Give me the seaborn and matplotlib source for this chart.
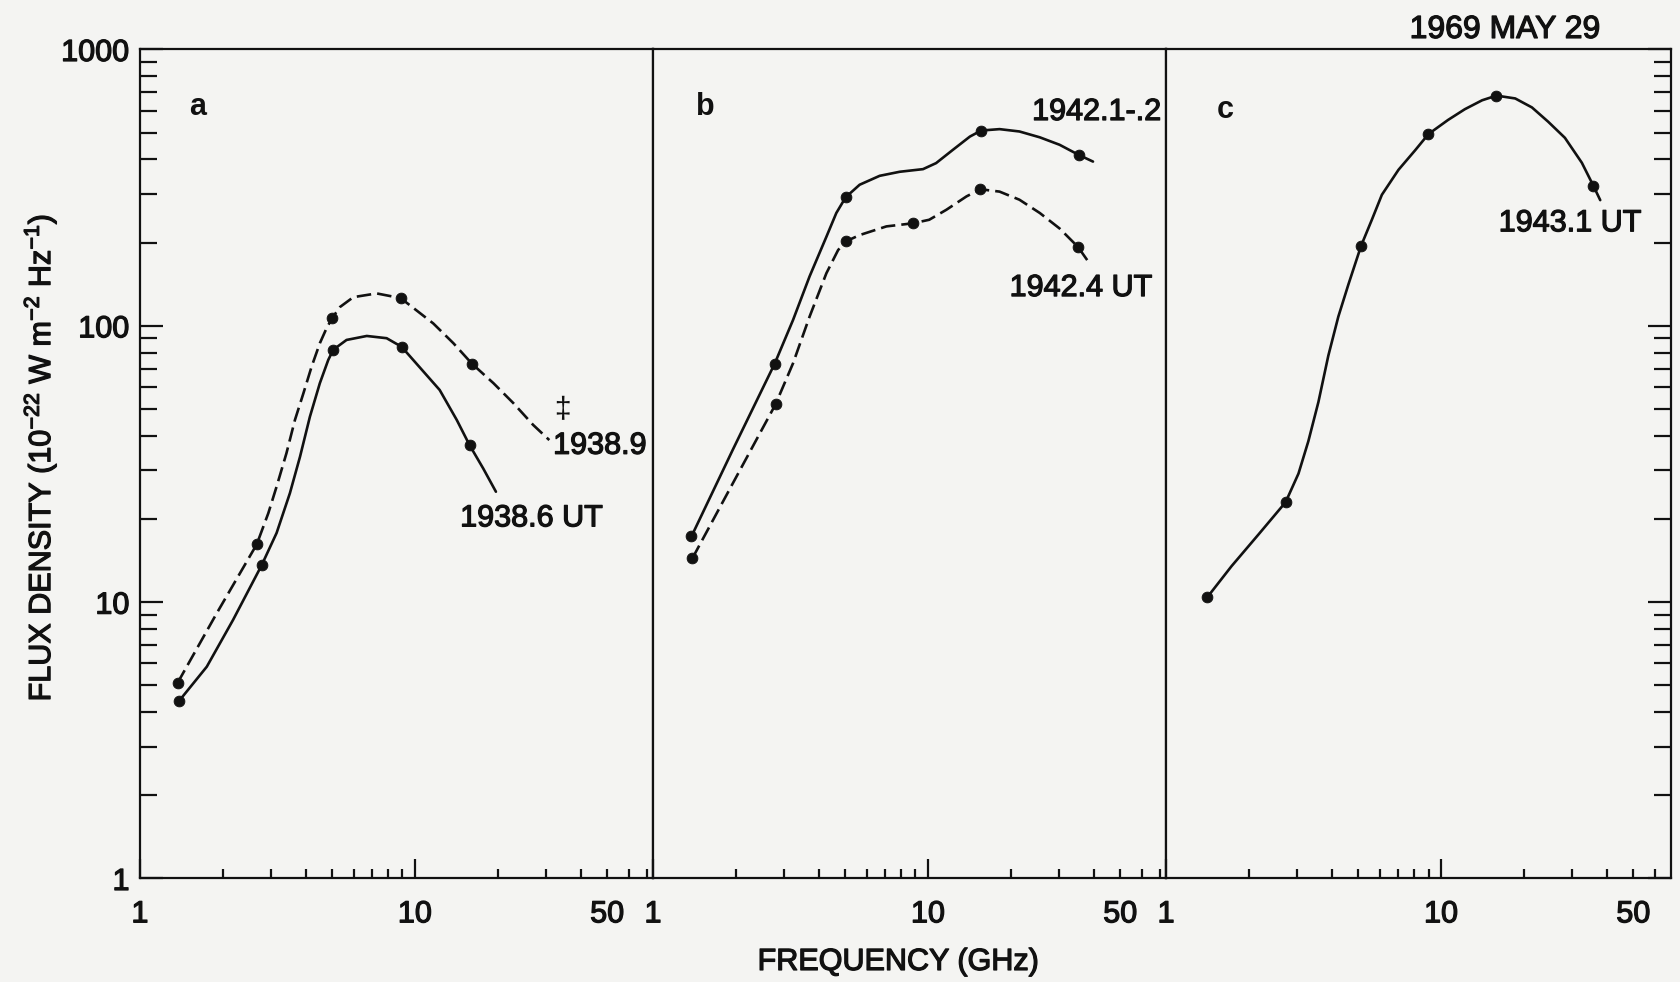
import matplotlib
matplotlib.use("Agg")
import matplotlib.pyplot as plt
import matplotlib.patheffects as pe
import seaborn as sns
from matplotlib.ticker import FixedLocator, FuncFormatter

# ==============================
# DATA
# ==============================
# measured points, panel a
freq_a_late = [1.37, 2.66, 5.01, 8.87, 16.1]
flux_a_late = [5.1, 16.2, 107, 126, 73]
freq_a_early = [1.39, 2.77, 5.05, 8.94, 15.8]
flux_a_early = [4.4, 13.6, 82, 84, 37]
freq_a_limit = [34.6]
flux_a_limit = [50.5]

# measured points, panel b
freq_b_early = [1.38, 2.77, 5.02, 15.6, 35.4]
flux_b_early = [17.3, 73, 292, 509, 415]
freq_b_late = [1.39, 2.79, 5.02, 8.82, 15.5, 35.1]
flux_b_late = [14.4, 52, 202, 235, 312, 193]

# measured points, panel c
freq_c = [1.41, 2.72, 5.12, 8.99, 15.9, 35.8]
flux_c = [10.4, 23, 195, 494, 681, 321]

# hand drawn curves
curve_a_late_x = [1.37, 1.90, 2.66, 2.93, 3.14, 3.41, 3.66, 3.93, 4.21, 4.51,
                  4.77, 5.01, 5.34, 5.97, 7.26, 8.87, 10.1, 11.66, 13.8, 16.1,
                  19.3, 22.8, 26.9, 30.8]
curve_a_late_y = [5.1, 9.1, 16.2, 21.0, 26.2, 34.6, 45.6, 57, 71.2, 86.5,
                  98, 107, 117, 127, 131, 126, 114, 102, 86.5, 73,
                  62, 52.5, 43.8, 38.6]
curve_a_early_x = [1.39, 1.75, 2.18, 2.77, 3.14, 3.51, 3.82, 4.15, 4.51, 4.84,
                   5.05, 5.64, 6.68, 7.89, 8.94, 10.1, 12.3, 14.2, 15.8, 17.7,
                   19.7]
curve_a_early_y = [4.4, 5.84, 8.62, 13.6, 17.8, 24.8, 33.6, 46.9, 62, 75.3,
                   82, 88.9, 91.9, 90.2, 84, 73.2, 58.6, 45.6, 37, 30.5,
                   25.1]

curve_b_early_x = [1.38, 1.95, 2.77, 3.23, 3.71, 4.27, 4.64, 5.02, 5.64, 6.67,
                   7.89, 9.59, 10.7, 12.3, 14.2, 15.6, 18.2, 21.5, 25.5, 30.1,
                   35.4, 39.8]
curve_b_early_y = [17.3, 35.6, 73, 105, 151, 210, 256, 292, 324, 349,
                   361, 369, 388, 433, 484, 509, 515, 505, 481, 452,
                   415, 393]
curve_b_late_x = [1.39, 1.95, 2.79, 3.23, 3.71, 4.27, 4.71, 5.02, 5.64, 7.06,
                  8.82, 10.1, 11.66, 13.8, 15.5, 18.2, 21.5, 25.5, 30.1, 35.1,
                  38.7]
curve_b_late_y = [14.4, 26.9, 52, 73.2, 108, 155, 188, 202, 213, 229,
                  235, 242, 263, 294, 312, 306, 286, 256, 225, 193,
                  168]

curve_c_x = [1.41, 1.73, 2.17, 2.72, 3.03, 3.29, 3.58, 3.89, 4.23, 4.60,
             5.12, 5.60, 6.09, 7.0, 8.05, 8.99, 10.6, 12.2, 14.1, 15.9,
             18.6, 21.4, 24.5, 28.2, 32.5, 35.8, 37.9]
curve_c_y = [10.4, 13.5, 17.6, 23, 29.2, 38.2, 53, 78, 108, 141,
             195, 242, 298, 367, 432, 494, 556, 608, 655, 681,
             665, 617, 548, 479, 389, 321, 285]

x_major = [1, 10]
x_minor = [2, 3, 4, 5, 6, 7, 8, 9, 20, 30, 40, 50, 60, 70]
y_major = [1, 10, 100, 1000]
y_minor = [m * d for d in (1, 10, 100) for m in range(2, 10)]

# ==============================
# STYLE
# ==============================
sns.set_style("white")
plt.rcParams["font.family"] = ["Liberation Sans", "DejaVu Sans"]
plt.rcParams["mathtext.fontset"] = "custom"
plt.rcParams["mathtext.rm"] = "Liberation Sans"
plt.rcParams["mathtext.default"] = "regular"

PAPER = "#f4f4f2"
INK = "#111111"
FS = 22
LW = 1.9
DASH = (0, (5.5, 2.3))
HEAVY = [pe.withStroke(linewidth=0.9, foreground=INK)]

fig = plt.figure(figsize=(16.8, 9.82), dpi=100, facecolor=PAPER)

bottom, height = 0.1054, 0.8442
ax_a = fig.add_axes([0.0833, bottom, 0.3054, height])
ax_b = fig.add_axes([0.3887, bottom, 0.3054, height])
ax_c = fig.add_axes([0.6941, bottom, 0.3006, height])
axes = [ax_a, ax_b, ax_c]

fmt_g = FuncFormatter(lambda v, p: f"{v:g}")
fmt_50 = FuncFormatter(lambda v, p: "50" if abs(v - 50) < 1e-6 else "")

for ax, xmax in zip(axes, [73.4, 73.4, 68.6]):
    ax.set_facecolor(PAPER)
    ax.set_xscale("log")
    ax.set_yscale("log")
    ax.set_xlim(1, xmax)
    ax.set_ylim(1, 1000)
    for sp in ax.spines.values():
        sp.set_color(INK)
        sp.set_linewidth(1.6)

    ax.xaxis.set_major_locator(FixedLocator(x_major))
    ax.xaxis.set_minor_locator(FixedLocator(x_minor))
    ax.xaxis.set_major_formatter(fmt_g)
    ax.xaxis.set_minor_formatter(fmt_50)
    ax.tick_params(axis="x", which="both", direction="in", bottom=True,
                   top=False, pad=15, labelsize=FS, colors=INK, width=1.6)
    ax.tick_params(axis="x", which="major", length=14)
    ax.tick_params(axis="x", which="minor", length=6.5)

    ax.yaxis.set_major_locator(FixedLocator(y_major))
    ax.yaxis.set_minor_locator(FixedLocator(y_minor))
    ax.yaxis.set_major_formatter(fmt_g)
    ax.yaxis.set_minor_formatter(FuncFormatter(lambda v, p: ""))
    ax.tick_params(axis="y", which="both", direction="in", pad=7.5,
                   labelsize=FS, colors=INK, width=1.6)
    ax.tick_params(axis="y", which="major", length=16.5)
    ax.tick_params(axis="y", which="minor", length=12)

ax_a.tick_params(axis="y", which="both", left=True, right=False)
ax_b.tick_params(axis="y", which="both", left=False, right=False,
                 labelleft=False)
ax_c.tick_params(axis="y", which="both", left=False, right=True,
                 labelleft=False, labelright=False)

# ==============================
# PANEL A
# ==============================
sns.lineplot(x=curve_a_late_x, y=curve_a_late_y, ax=ax_a, color=INK,
             lw=LW, linestyle=DASH)
sns.lineplot(x=curve_a_early_x, y=curve_a_early_y, ax=ax_a, color=INK, lw=LW)
sns.scatterplot(x=freq_a_late, y=flux_a_late, ax=ax_a, color=INK, s=60,
                edgecolor=INK, zorder=3)
sns.scatterplot(x=freq_a_early, y=flux_a_early, ax=ax_a, color=INK, s=60,
                edgecolor=INK, zorder=3)
sns.scatterplot(x=freq_a_limit, y=flux_a_limit, ax=ax_a, color=INK, s=300,
                marker=r"$\ddagger$", edgecolor="none", zorder=3)

labels = []
labels.append(ax_a.text(31.8, 36.8, "1938.9", fontsize=FS, ha="left",
                        va="center", color=INK))
labels.append(ax_a.text(14.6, 20.1, "1938.6 UT", fontsize=FS, ha="left",
                        va="center", color=INK))

# ==============================
# PANEL B
# ==============================
sns.lineplot(x=curve_b_early_x, y=curve_b_early_y, ax=ax_b, color=INK, lw=LW)
sns.lineplot(x=curve_b_late_x, y=curve_b_late_y, ax=ax_b, color=INK,
             lw=LW, linestyle=DASH)
sns.scatterplot(x=freq_b_early, y=flux_b_early, ax=ax_b, color=INK, s=60,
                edgecolor=INK, zorder=3)
sns.scatterplot(x=freq_b_late, y=flux_b_late, ax=ax_b, color=INK, s=60,
                edgecolor=INK, zorder=3)

labels.append(ax_b.text(23.9, 594, "1942.1-.2", fontsize=FS, ha="left",
                        va="center", color=INK))
labels.append(ax_b.text(19.8, 137, "1942.4 UT", fontsize=FS, ha="left",
                        va="center", color=INK))

# ==============================
# PANEL C
# ==============================
sns.lineplot(x=curve_c_x, y=curve_c_y, ax=ax_c, color=INK, lw=LW)
sns.scatterplot(x=freq_c, y=flux_c, ax=ax_c, color=INK, s=60,
                edgecolor=INK, zorder=3)

labels.append(ax_c.text(16.2, 235, "1943.1 UT", fontsize=FS, ha="left",
                        va="center", color=INK))

# panel letters
for ax, letter, xf, yf in [(ax_a, "a", 0.113, 0.931), (ax_b, "b", 0.102, 0.931),
                           (ax_c, "c", 0.117, 0.927)]:
    ax.text(xf, yf, letter, transform=ax.transAxes, fontsize=FS,
            fontweight="bold", ha="center", va="center", color=INK)

for ax in axes:
    if ax.get_legend() is not None:
        ax.get_legend().remove()
    ax.set_xlabel("")
    ax.set_ylabel("")

# ==============================
# FIGURE TEXT
# ==============================
labels.append(fig.text(0.0238, 0.5336,
                       "FLUX DENSITY (10$^{-22}$ W m$^{-2}$ Hz$^{-1}$)",
                       rotation=90, ha="center", va="center", fontsize=FS,
                       color=INK))
labels.append(fig.text(0.5345, 0.0204, "FREQUENCY (GHz)", ha="center",
                       va="center", fontsize=FS, color=INK))
labels.append(fig.text(0.8958, 0.9695, "1969 MAY 29", ha="center",
                       va="center", fontsize=23, color=INK))

# slightly heavier lettering, like the printed original
fig.canvas.draw()
for ax in axes:
    labels += ax.get_xticklabels(which="both") + ax.get_yticklabels()
for t in labels:
    t.set_path_effects(HEAVY)

fig.savefig("out.png", dpi=100, facecolor=PAPER)
plt.close(fig)
